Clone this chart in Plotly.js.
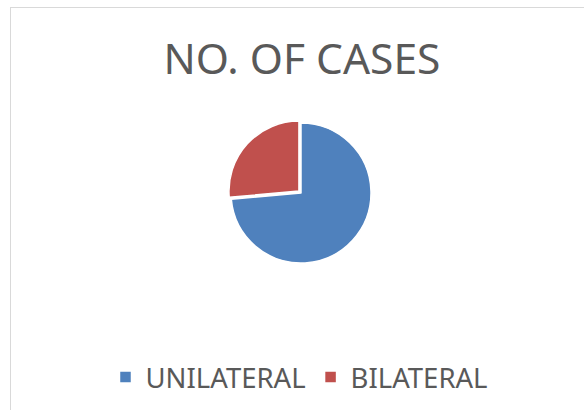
<!DOCTYPE html>
<html>
<head>
<meta charset="utf-8">
<script src="https://cdn.plot.ly/plotly-3.0.1.min.js"></script>
<style>
  html, body { margin: 0; padding: 0; background: #ffffff; }
  #wrap { position: relative; width: 584px; height: 410px; overflow: hidden; }
  #frame { position: absolute; left: 10px; top: 7px; width: 620px; height: 440px; border: 1px solid #d9d9d9; box-sizing: border-box; }
  #chart { position: absolute; left: 0; top: 0; width: 584px; height: 410px; }
</style>
</head>
<body>
<div id="wrap">
  <div id="frame"></div>
  <div id="chart"></div>
</div>
<script>
const categories = ["UNILATERAL", "BILATERAL"];
const cases = [73.6, 26.4];
const colors = ["#4f81bd", "#c0504d"];
const titleText = "NO. OF CASES";

const W = 584, H = 410;
const cx = 301, cy = 193, r = 70, pull = 0.04;
const R = r * (1 + pull);

const data = [{
  type: "pie",
  labels: categories,
  values: cases,
  sort: false,
  direction: "clockwise",
  rotation: 0,
  pull: [0, pull],
  textinfo: "none",
  hoverinfo: "label+value",
  marker: { colors: colors, line: { color: "#ffffff", width: 1.5 } },
  domain: { x: [(cx - R) / W, (cx + R) / W], y: [(H - cy - R) / H, (H - cy + R) / H] }
}];

const layout = {
  width: W, height: H,
  margin: { l: 0, r: 0, t: 0, b: 0 },
  paper_bgcolor: "rgba(0,0,0,0)",
  plot_bgcolor: "rgba(0,0,0,0)",
  showlegend: true,
  title: {
    text: titleText,
    font: { family: "Noto Sans, Open Sans, sans-serif", size: 42.5, color: "#595959" },
    x: 302 / W, xanchor: "center",
    y: 1 - 59 / H, yanchor: "middle"
  },
  legend: {
    orientation: "h",
    x: 299 / W, xanchor: "center",
    y: 1 - 377 / H, yanchor: "middle",
    font: { family: "Noto Sans, Open Sans, sans-serif", size: 27.5, color: "#595959" },
    itemwidth: 30,
    tracegroupgap: 0
  }
};

Plotly.newPlot("chart", data, layout, { displayModeBar: false, staticPlot: true });
</script>
</body>
</html>
